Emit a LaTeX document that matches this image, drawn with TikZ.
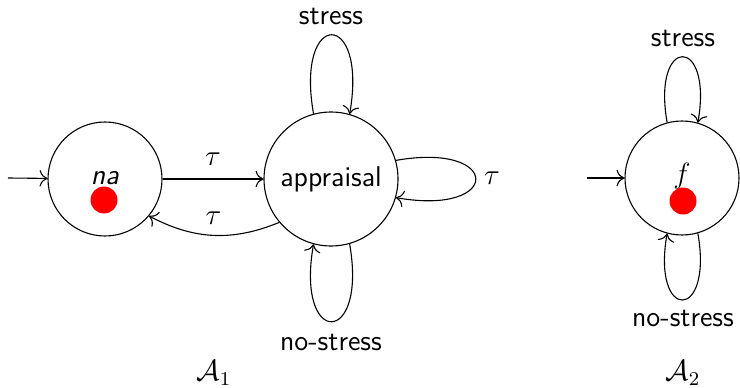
\documentclass[tikz,border=0pt]{standalone}
\usepackage{amsmath}
\usetikzlibrary{arrows.meta}
\begin{document}
\begin{tikzpicture}[x=0.41pt,y=0.41pt,
  every node/.style={font=\sffamily\fontsize{11.7}{14}\selectfont},
  state/.style={draw,circle,inner sep=0pt,line width=0.45pt},
  small/.style={state,minimum size=114*0.41pt},
  big/.style={state,minimum size=134*0.41pt},
  edge/.style={-{To[scale=1.25]},line width=0.45pt},
  dot/.style={fill=red,circle,inner sep=0pt,minimum size=27*0.41pt}]
\useasboundingbox (0,0) rectangle (740,387);
% A1
\node[small] (na) at (105,208) {};
\node (natext) at (105,209) {\textsl{na}};
\node[dot] (nadot) at (104,187) {};
\node[big] (ap) at (331,208) {appraisal};
\coordinate (i1) at (8,209);
\draw[edge] (i1) -- (na);
\draw[edge] (na) -- node[above=2pt] (t1) {$\tau$} (ap);
\draw[edge] (ap.220) to[bend left=25] node[above=1pt] (t2) {$\tau$} (na.-40);
\draw[edge] (ap.16) .. controls +(10:108) and +(-10:108) .. (ap.-16);
\node (t3) at (492,209) {$\tau$};
\draw[edge] (ap.105) .. controls +(100:107) and +(80:107) .. (ap.74);
\node (s1) at (331,371) {stress};
\draw[edge] (ap.-74) .. controls +(-80:105) and +(-100:105) .. (ap.-105);
\node (ns1) at (331,45) {no-stress};
\node (A1) at (214,14) {$\mathcal{A}_1$};
% A2
\node[small] (f) at (682,209) {};
\node (ftext) at (682,211) {$f$};
\node[dot] (fdot) at (683,186) {};
\coordinate (i2) at (587,209);
\draw[edge] (i2) -- (f);
\draw[edge] (f.105) .. controls +(100:89) and +(80:89) .. (f.74);
\node (s2) at (683,349) {stress};
\draw[edge] (f.-74) .. controls +(-80:90) and +(-100:90) .. (f.-105);
\node (ns2) at (683,69) {no-stress};
\node (A2) at (683,14) {$\mathcal{A}_2$};
\end{tikzpicture}
\end{document}
